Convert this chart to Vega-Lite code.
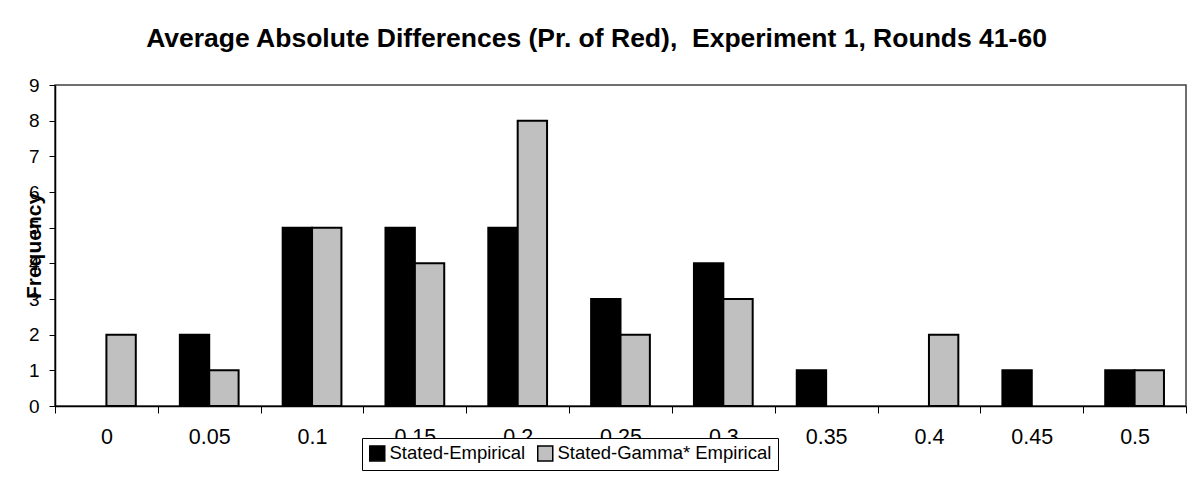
{
  "$schema": "https://vega.github.io/schema/vega-lite/v6.json",
  "autosize": "none",
  "width": 1131,
  "height": 321,
  "padding": {"left": 55, "top": 85, "right": 5, "bottom": 73},
  "background": "white",
  "config": {
    "font": "Liberation Sans",
    "view": {"stroke": "#404040", "strokeWidth": 1.5}
  },
  "title": {
    "text": "Average Absolute Differences (Pr. of Red),\u00a0 Experiment 1, Rounds 41-60",
    "fontSize": 26.5,
    "fontWeight": "bold",
    "color": "#000000",
    "anchor": "middle",
    "frame": "group",
    "dx": -24,
    "baseline": "alphabetic",
    "offset": 3
  },
  "data": {
    "values": [
      {"bin": "0", "series": "Stated-Empirical", "count": 0},
      {"bin": "0", "series": "Stated-Gamma* Empirical", "count": 2},
      {"bin": "0.05", "series": "Stated-Empirical", "count": 2},
      {"bin": "0.05", "series": "Stated-Gamma* Empirical", "count": 1},
      {"bin": "0.1", "series": "Stated-Empirical", "count": 5},
      {"bin": "0.1", "series": "Stated-Gamma* Empirical", "count": 5},
      {"bin": "0.15", "series": "Stated-Empirical", "count": 5},
      {"bin": "0.15", "series": "Stated-Gamma* Empirical", "count": 4},
      {"bin": "0.2", "series": "Stated-Empirical", "count": 5},
      {"bin": "0.2", "series": "Stated-Gamma* Empirical", "count": 8},
      {"bin": "0.25", "series": "Stated-Empirical", "count": 3},
      {"bin": "0.25", "series": "Stated-Gamma* Empirical", "count": 2},
      {"bin": "0.3", "series": "Stated-Empirical", "count": 4},
      {"bin": "0.3", "series": "Stated-Gamma* Empirical", "count": 3},
      {"bin": "0.35", "series": "Stated-Empirical", "count": 1},
      {"bin": "0.35", "series": "Stated-Gamma* Empirical", "count": 0},
      {"bin": "0.4", "series": "Stated-Empirical", "count": 0},
      {"bin": "0.4", "series": "Stated-Gamma* Empirical", "count": 2},
      {"bin": "0.45", "series": "Stated-Empirical", "count": 1},
      {"bin": "0.45", "series": "Stated-Gamma* Empirical", "count": 0},
      {"bin": "0.5", "series": "Stated-Empirical", "count": 1},
      {"bin": "0.5", "series": "Stated-Gamma* Empirical", "count": 1}
    ]
  },
  "transform": [{"filter": "datum.count > 0"}],
  "mark": {"type": "bar", "stroke": "#000000", "strokeWidth": 2, "strokeJoin": "miter"},
  "encoding": {
    "x": {
      "field": "bin",
      "type": "nominal",
      "sort": ["0", "0.05", "0.1", "0.15", "0.2", "0.25", "0.3", "0.35", "0.4", "0.45", "0.5"],
      "scale": {"paddingInner": 0, "paddingOuter": 0},
      "axis": {
        "title": null,
        "labelAngle": 0,
        "labelFontSize": 21.5,
        "labelColor": "#000000",
        "labelPadding": 13,
        "tickBand": "extent",
        "tickSize": 7,
        "tickColor": "#000000",
        "domainColor": "#000000",
        "domainWidth": 1.5,
        "labelBaseline": "top"
      }
    },
    "xOffset": {
      "field": "series",
      "type": "nominal",
      "sort": ["Stated-Empirical", "Stated-Gamma* Empirical"],
      "scale": {"paddingInner": 0, "paddingOuter": 0.75}
    },
    "y": {
      "field": "count",
      "type": "quantitative",
      "scale": {"domain": [0, 9], "nice": false},
      "axis": {
        "title": "Frequency",
        "titleFontSize": 21,
        "titleFontWeight": "bold",
        "titleColor": "#000000",
        "titleX": -15,
        "titleY": 160.5,
        "titleBaseline": "alphabetic",
        "titleAlign": "center",
        "values": [0, 1, 2, 3, 4, 5, 6, 7, 8, 9],
        "labelFontSize": 19,
        "labelColor": "#000000",
        "labelPadding": 10,
        "tickSize": 6,
        "tickColor": "#000000",
        "domainColor": "#000000",
        "domainWidth": 1.5,
        "grid": false
      }
    },
    "color": {
      "field": "series",
      "type": "nominal",
      "sort": ["Stated-Empirical", "Stated-Gamma* Empirical"],
      "scale": {"domain": ["Stated-Empirical", "Stated-Gamma* Empirical"], "range": ["#000000", "#c0c0c0"]},
      "legend": {
        "title": null,
        "orient": "none",
        "direction": "horizontal",
        "legendX": 307,
        "legendY": 353,
        "symbolType": "square",
        "symbolSize": 225,
        "symbolStrokeColor": "#000000",
        "symbolStrokeWidth": 1.5,
        "symbolOpacity": 1,
        "labelFontSize": 18.5,
        "labelColor": "#000000",
        "labelOffset": 3,
        "columnPadding": 8,
        "padding": 6,
        "strokeColor": "#000000",
        "fillColor": "#ffffff",
        "labelLimit": 400
      }
    }
  }
}
